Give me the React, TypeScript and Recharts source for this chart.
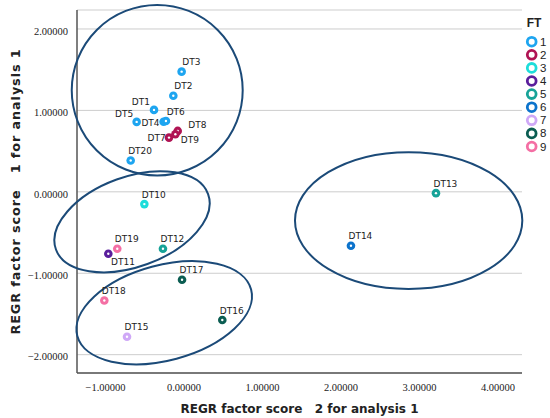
import React from 'react';
import { ScatterChart, Scatter, XAxis, YAxis, CartesianGrid, Legend } from 'recharts';

// ---------- data ----------
const groupNames = ['1', '2', '3', '4', '5', '6', '7', '8', '9'];
const groupColors = ['#1EA5F0', '#B01454', '#1DDDDA', '#5A1E9C', '#17A398', '#0C73CC', '#CFA8F7', '#0B5D52', '#F46FA4'];

const pointNames = ['DT1', 'DT2', 'DT3', 'DT4', 'DT5', 'DT6', 'DT7', 'DT8', 'DT9', 'DT10',
  'DT11', 'DT12', 'DT13', 'DT14', 'DT15', 'DT16', 'DT17', 'DT18', 'DT19', 'DT20'];
const pointGroups = [1, 1, 1, 1, 1, 1, 2, 2, 2, 3, 4, 5, 5, 6, 7, 8, 8, 9, 9, 1];
// REGR factor score 2 (x)
const factorScore2 = [-0.382, -0.136, -0.03, -0.26, -0.603, -0.23, -0.191, -0.08, -0.11, -0.505,
  -0.964, -0.268, 3.21, 2.127, -0.726, 0.488, -0.025, -1.015, -0.85, -0.679];
// REGR factor score 1 (y)
const factorScore1 = [1.006, 1.18, 1.476, 0.86, 0.859, 0.87, 0.666, 0.748, 0.708, -0.151,
  -0.76, -0.7, -0.016, -0.663, -1.779, -1.575, -1.08, -1.334, -0.7, 0.384];

const xTicks = [-1, 0, 1, 2, 3, 4];
const yTicks = [-2, -1, 0, 1, 2];
const xDomain = [-1.363, 4.306];
const yDomain = [-2.225, 2.233];

// cluster ellipses: centre, end of one semi-axis (A) and end of the conjugate semi-axis (B)
const ellipseCenterX = [-0.341, -0.662, -0.252, 2.862];
const ellipseCenterY = [1.248, -0.368, -1.485, -0.353];
const ellipseAX = [0.748, 0.307, 0.855, 1.414];
const ellipseAY = [1.248, -0.028, -1.199, -0.353];
const ellipseBX = [-0.341, -0.466, -0.409, 2.862];
const ellipseBY = [0.201, -0.887, -0.921, 0.487];

const xTitle = 'REGR factor score\u00A0\u00A0 2 for analysis 1';
const yTitle = 'REGR factor score\u00A0\u00A0 1 for analysis 1';

// ---------- label placement (style) ----------
const defaultPlacement = { dx: -2.5, dy: -9.5, anchor: 'start' };
const labelPlacement: Record<string, { dx: number; dy: number; anchor: string }> = {
  DT1: { dx: -4, dy: -8.3, anchor: 'end' },
  DT2: { dx: 1, dy: -9.7, anchor: 'start' },
  DT3: { dx: 0.6, dy: -9.4, anchor: 'start' },
  DT4: { dx: -4, dy: 1, anchor: 'end' },
  DT5: { dx: -3.4, dy: -7.7, anchor: 'end' },
  DT6: { dx: 0.7, dy: -9.3, anchor: 'start' },
  DT7: { dx: -3.3, dy: 0, anchor: 'end' },
  DT8: { dx: 10.6, dy: -6.3, anchor: 'start' },
  DT9: { dx: 5.4, dy: 5.7, anchor: 'start' },
  DT11: { dx: 2.7, dy: 8.7, anchor: 'start' },
};

const fmt = (v: number) => (v < 0 ? '\u2212' + Math.abs(v).toFixed(5) : v.toFixed(5));

const groupData = groupNames.map((g, gi) =>
  pointNames
    .map((name, i) => ({ name, x: factorScore2[i], y: factorScore1[i], group: pointGroups[i] }))
    .filter((p) => p.group === gi + 1)
);

const ellipseData = ellipseCenterX.map((cx, i) => [
  { x: cx, y: ellipseCenterY[i] },
  { x: ellipseAX[i], y: ellipseAY[i] },
  { x: ellipseBX[i], y: ellipseBY[i] },
]);

const ELLIPSE_COLOR = '#1B4A78';

const renderEllipse = (props: any) => {
  const pts = props.points || [];
  if (pts.length < 3) return <g />;
  const [c, a, b] = pts;
  const ux = a.x - c.x, uy = a.y - c.y, vx = b.x - c.x, vy = b.y - c.y;
  return (
    <circle
      cx={0}
      cy={0}
      r={1}
      fill="none"
      stroke={ELLIPSE_COLOR}
      strokeWidth={2}
      vectorEffect="non-scaling-stroke"
      transform={`matrix(${ux} ${uy} ${vx} ${vy} ${c.x} ${c.y})`}
    />
  );
};

const makePointShape = (color: string) => (props: any) => {
  const { cx, cy, payload } = props;
  const pl = labelPlacement[payload.name] || defaultPlacement;
  return (
    <g>
      <circle cx={cx} cy={cy} r={4.3} fill={color} />
      <circle cx={cx} cy={cy} r={1.2} fill="#fff" />
      <text
        x={cx + pl.dx}
        y={cy + pl.dy}
        textAnchor={pl.anchor as any}
        dominantBaseline="central"
        fontFamily="DejaVu Sans"
        fontSize={9}
        fill="#222"
      >
        {payload.name}
      </text>
    </g>
  );
};

const renderLegend = () => (
  <svg width={42} height={145} style={{ overflow: 'visible', display: 'block' }}>
    <text x={26} y={17} textAnchor="middle" fontFamily="Liberation Sans" fontWeight="bold" fontSize={12} fill="#222">
      FT
    </text>
    {groupNames.map((g, i) => (
      <g key={g}>
        <circle cx={23.7} cy={31.7 + 13.1 * i} r={4.4} fill="none" stroke={groupColors[i]} strokeWidth={2.8} />
        <text x={32} y={31.7 + 13.1 * i + 4} fontFamily="Liberation Sans" fontSize={11.5} fill="#222">
          {g}
        </text>
      </g>
    ))}
  </svg>
);

const XTitle = (props: any) => {
  const vb = props.viewBox;
  return (
    <text x={vb.x + vb.width / 2} y={vb.y + 40} textAnchor="middle" fontFamily="DejaVu Sans" fontWeight="bold" fontSize={12} fill="#222">
      {xTitle}
    </text>
  );
};

const YTitle = (props: any) => {
  const vb = props.viewBox;
  const cx = 15;
  const cy = vb.y + vb.height / 2;
  return (
    <text
      x={cx}
      y={cy}
      textAnchor="middle"
      dominantBaseline="central"
      transform={`rotate(-90 ${cx} ${cy})`}
      fontFamily="DejaVu Sans"
      fontWeight="bold"
      fontSize={12.8}
      letterSpacing={0.9}
      fill="#222"
    >
      {yTitle}
    </text>
  );
};

export default function App() {
  return (
    <div style={{ position: 'absolute', left: 0, top: 0, width: 550, height: 418, background: '#fff' }}>
      <ScatterChart width={550} height={418} margin={{ top: 10, right: -14, bottom: 0, left: 0 }}>
        <CartesianGrid vertical={false} stroke="#CDCDCD" />
        <XAxis
          type="number"
          dataKey="x"
          domain={xDomain}
          ticks={xTicks}
          tickFormatter={fmt}
          height={45}
          tickLine={false}
          tickSize={6}
          tickMargin={5}
          axisLine={{ stroke: '#555', strokeWidth: 1.5 }}
          tick={{ fontFamily: 'Liberation Serif', fontSize: 10.5, fill: '#222' }}
          label={<XTitle />}
          interval={0}
        />
        <YAxis
          type="number"
          dataKey="y"
          domain={yDomain}
          ticks={yTicks}
          tickFormatter={fmt}
          width={77}
          tickLine={false}
          tickSize={6}
          tickMargin={3}
          axisLine={{ stroke: '#555', strokeWidth: 1.5 }}
          tick={{ fontFamily: 'Liberation Serif', fontSize: 10.5, fill: '#222', dy: 2 }}
          label={<YTitle />}
          interval={0}
        />
        <Legend
          layout="vertical"
          align="right"
          verticalAlign="top"
          content={renderLegend}
          wrapperStyle={{ left: 508, top: 10, width: 42, height: 145 }}
        />
        {ellipseData.map((d, i) => (
          <Scatter
            key={'ellipse' + i}
            data={d}
            line={renderEllipse}
            lineType="joint"
            shape={() => <g />}
            legendType="none"
            fill={ELLIPSE_COLOR}
            isAnimationActive={false}
          />
        ))}
        {groupData.map((d, i) => (
          <Scatter
            key={'group' + i}
            name={groupNames[i]}
            data={d}
            fill={groupColors[i]}
            shape={makePointShape(groupColors[i])}
            isAnimationActive={false}
          />
        ))}
      </ScatterChart>
    </div>
  );
}
